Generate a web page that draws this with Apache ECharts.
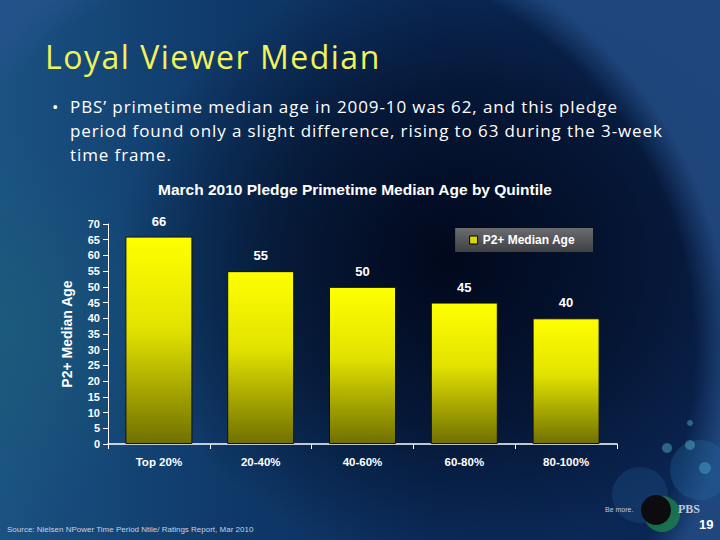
<!DOCTYPE html>
<html>
<head>
<meta charset="utf-8">
<script src="https://cdn.jsdelivr.net/npm/echarts@6/dist/echarts.min.js"></script>
<style>
html,body{margin:0;padding:0;width:720px;height:540px;overflow:hidden;}
body{
  position:relative;
  background:
    radial-gradient(circle 440px at 300px 350px, rgba(0,0,0,0) 0, rgba(0,0,0,0) 395px, rgba(38,82,140,0.75) 430px),
    radial-gradient(ellipse 330px 300px at 450px 260px, rgba(1,6,24,0.95), rgba(1,6,24,0.55) 55%, rgba(1,6,24,0) 100%),
    radial-gradient(ellipse 160px 200px at 0px 330px, rgba(30,95,120,0.6), rgba(30,95,120,0) 100%),
    linear-gradient(to right, #1a5282 0%, #0f3a6a 30%, #0b2c5c 60%, #0a2450 100%);
}
#chart{position:absolute;left:0;top:0;width:720px;height:540px;}
#title{position:absolute;left:45px;top:35px;color:#f2f25a;font:32px "Open Sans",sans-serif;letter-spacing:1.5px;white-space:nowrap;}
#bullets{position:absolute;left:52px;top:95px;color:#ffffff;font:17px "Open Sans",sans-serif;letter-spacing:0.9px;line-height:24px;white-space:nowrap;}
#bullets .dot{position:absolute;left:0;top:0;}
#bullets .txt{position:absolute;left:18px;top:0;}
</style>
</head>
<body>
<div id="chart"></div>
<div id="title"></div>
<div id="bullets"><span class="dot">&#8226;</span><div class="txt"></div></div>
<script>
const slideTitle = "Loyal Viewer Median";
const bulletLines = [
  "PBS\u2019 primetime median age in 2009-10 was 62, and this pledge",
  "period found only a slight difference, rising to 63 during the 3-week",
  "time frame."
];
const chartTitle = "March 2010 Pledge Primetime Median Age by Quintile";
const categories = ["Top 20%", "20-40%", "40-60%", "60-80%", "80-100%"];
const medianAge = [66, 55, 50, 45, 40];
const seriesName = "P2+ Median Age";
const yAxisName = "P2+ Median Age";
const sourceText = "Source: Nielsen NPower Time Period Ntile/ Ratings Report, Mar 2010";
const pageNumber = "19";

document.getElementById('title').textContent = slideTitle;
const txt = document.querySelector('#bullets .txt');
bulletLines.forEach(l => { const d = document.createElement('div'); d.textContent = l; txt.appendChild(d); });

const chart = echarts.init(document.getElementById('chart'), null, {renderer: 'svg'});
const chartFont = '"Liberation Sans", Arial, sans-serif';

const graphics = [
  {type:'text', left:7, top:525, style:{text:sourceText, fill:'#c8d0e0', font:'8px ' + chartFont}},
  {type:'text', left:699, top:518, style:{text:pageNumber, fill:'#ffffff', font:'bold 13px ' + chartFont}},
  // decorative bubbles
  {type:'circle', shape:{cx:700, cy:470, r:30}, style:{fill:'rgba(40,110,170,0.3)'}},
  {type:'circle', shape:{cx:640, cy:495, r:28}, style:{fill:'rgba(40,100,160,0.25)'}},
  {type:'circle', shape:{cx:690, cy:445, r:5}, style:{fill:'rgba(80,170,200,0.5)'}},
  {type:'circle', shape:{cx:667, cy:448, r:5}, style:{fill:'rgba(80,170,200,0.5)'}},
  {type:'circle', shape:{cx:705, cy:468, r:6}, style:{fill:'rgba(80,170,200,0.45)'}},
  {type:'circle', shape:{cx:690, cy:423, r:3}, style:{fill:'rgba(80,170,200,0.5)'}},
  {type:'circle', shape:{cx:662, cy:514, r:18}, style:{fill:'rgba(30,140,70,0.7)'}},
  {type:'circle', shape:{cx:656, cy:510, r:15}, style:{fill:'#0b0b10'}},
  {type:'text', left:605, top:506, style:{text:'Be more.', fill:'#c0c8d8', font:'7px ' + chartFont}},
  {type:'text', left:678, top:503, style:{text:'PBS', fill:'#c0c8d8', font:'bold 12px "Liberation Serif", serif'}}
];

chart.setOption({
  backgroundColor: 'transparent',
  animation: false,
  title: {
    text: chartTitle, left: 350, textAlign: 'center', top: 176,
    textStyle: {color:'#ffffff', fontFamily: chartFont, fontWeight:'bold', fontSize:15.5}
  },
  legend: {
    right: 127, top: 228, width: 140, height: 24,
    padding: [6, 18, 6, 14],
    backgroundColor: {type:'linear', x:0, y:0, x2:0, y2:1, colorStops:[{offset:0, color:'#6a6c70'},{offset:1, color:'#3e4044'}]},
    itemWidth: 8, itemHeight: 8, itemGap: 4,
    icon: 'rect',
    textStyle: {color:'#ffffff', fontFamily: chartFont, fontWeight:'bold', fontSize:12},
    data: [{name: seriesName, itemStyle:{color:'#d8d800', borderColor:'#000', borderWidth:1}}]
  },
  grid: {left:108, right:103, top:224, bottom:96},
  xAxis: {
    type:'category', data: categories,
    axisLine:{lineStyle:{color:'#ffffff', width:1.5}},
    axisTick:{show:true, alignWithLabel:false, length:5, lineStyle:{color:'#ffffff'}},
    axisLabel:{color:'#ffffff', fontFamily: chartFont, fontWeight:'bold', fontSize:11.5, margin:12}
  },
  yAxis: {
    type:'value', min:0, max:70, interval:5,
    name: yAxisName, nameLocation:'middle', nameGap:34, nameRotate:90,
    nameTextStyle:{color:'#ffffff', fontFamily: chartFont, fontWeight:'bold', fontSize:14},
    axisLine:{show:true, lineStyle:{color:'#ffffff', width:1}},
    axisTick:{show:true, length:5, inside:false, lineStyle:{color:'#ffffff'}},
    splitLine:{show:false},
    axisLabel:{color:'#ffffff', fontFamily: chartFont, fontWeight:'bold', fontSize:11, margin:8}
  },
  series: [{
    name: seriesName, type:'bar', data: medianAge, barWidth: 67,
    itemStyle: {
      color: {type:'linear', x:0, y:0, x2:0, y2:1, colorStops:[{offset:0, color:'#ffff00'},{offset:0.45, color:'#e2e200'},{offset:1, color:'#707000'}]},
      borderColor:'#111', borderWidth:1
    },
    label: {show:true, position:'top', distance:9, color:'#ffffff', fontFamily: chartFont, fontWeight:'bold', fontSize:13}
  }],
  graphic: graphics
});
</script>
</body>
</html>
